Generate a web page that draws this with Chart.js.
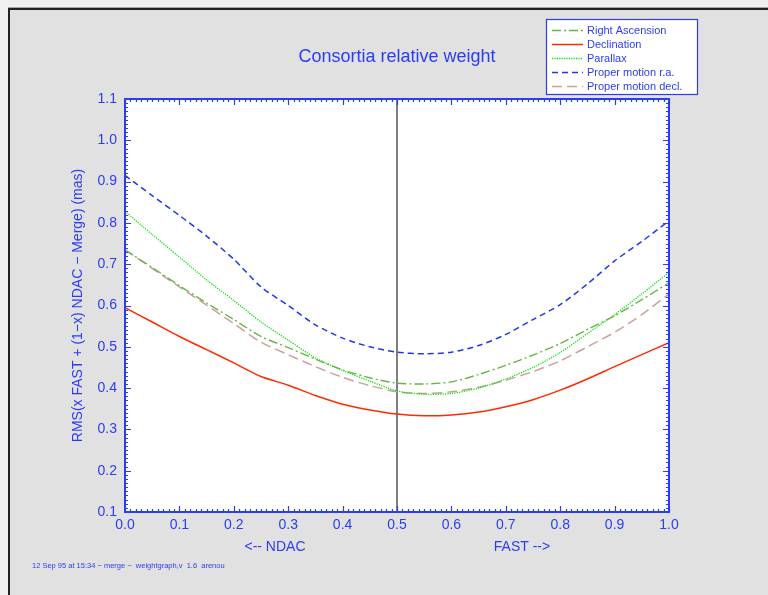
<!DOCTYPE html>
<html><head><meta charset="utf-8">
<script src="https://cdn.jsdelivr.net/npm/chart.js@4.4.1/dist/chart.umd.min.js"></script>
<style>html,body{margin:0;padding:0;background:#efefef;}#wrap{width:768px;height:595px;}</style>
</head><body><div id="wrap"><canvas id="c" width="768" height="595"></canvas></div>
<script>
const xValues = [0.00,0.05,0.10,0.15,0.20,0.25,0.30,0.35,0.40,0.45,0.50,0.55,0.60,0.65,0.70,0.75,0.80,0.85,0.90,0.95,1.00];
const rightAscension = [0.735,0.692,0.648,0.606,0.566,0.525,0.498,0.470,0.444,0.425,0.412,0.410,0.415,0.433,0.455,0.480,0.508,0.542,0.575,0.614,0.655];
const declination   = [0.595,0.560,0.525,0.493,0.461,0.428,0.407,0.382,0.361,0.347,0.337,0.333,0.335,0.342,0.355,0.372,0.395,0.422,0.452,0.481,0.510];
const parallax      = [0.828,0.772,0.717,0.662,0.612,0.560,0.516,0.473,0.443,0.417,0.393,0.385,0.387,0.400,0.422,0.450,0.486,0.532,0.578,0.628,0.680];
const pmRA          = [0.915,0.866,0.818,0.768,0.712,0.645,0.600,0.553,0.521,0.500,0.487,0.483,0.487,0.503,0.530,0.566,0.602,0.652,0.708,0.755,0.805];
const pmDec         = [0.735,0.690,0.645,0.601,0.556,0.511,0.481,0.452,0.426,0.406,0.391,0.387,0.391,0.402,0.419,0.440,0.466,0.500,0.535,0.578,0.628];
const dividerX = [0.5, 0.5];
const dividerY = [0.1, 1.1];
const seriesNames = ["Right Ascension","Declination","Parallax","Proper motion r.a.","Proper motion decl."];
const titleText = "Consortia relative weight";
const yTitle = "RMS(x FAST + (1\u2212x) NDAC \u2212 Merge) (mas)";
const xTitleLeft = "<-- NDAC";
const xTitleRight = "FAST -->";
const footText = "12 Sep 95 at 15:34 \u2212 merge \u2212  weightgraph,v  1.6  arenou";

const BLUE = "#2b3cf5";
const FONT = "'Liberation Sans', Arial, sans-serif";
const pts = arr => xValues.map((x,i)=>({x:x,y:arr[i]}));

const styles = [
  {color:"#66b544", dash:[9,3,2,3], width:1.4},
  {color:"#ff2a00", dash:[], width:1.5},
  {color:"#00e400", dash:[1.2,1.2], width:1.3},
  {color:"#2037f0", dash:[6,4], width:1.5},
  {color:"#caa19e", dash:[10,5], width:1.5}
];
const seriesData = [rightAscension, declination, parallax, pmRA, pmDec];

const datasets = seriesData.map((arr,i)=>({
  label: seriesNames[i], data: pts(arr), borderColor: styles[i].color,
  borderDash: styles[i].dash, borderWidth: styles[i].width, pointRadius: 0,
  tension: 0.25, fill:false
}));
datasets.push({label:"divider", data: dividerX.map((x,i)=>({x:x,y:dividerY[i]})),
  borderColor:"#000", borderWidth:1, pointRadius:0, fill:false});

const decor = {
  id:'decor',
  beforeDraw(chart){
    const ctx = chart.ctx;
    ctx.save();
    ctx.fillStyle = "#f0f0f0"; ctx.fillRect(0,0,768,595);
    ctx.fillStyle = "#e1e1e1"; ctx.fillRect(9,9,759,586);
    ctx.fillStyle = "#a8a8a8"; ctx.fillRect(8,7,760,1);
    ctx.fillStyle = "#222"; ctx.fillRect(8,8,760,2); ctx.fillRect(8,8,2,587);
    const a = chart.chartArea;
    ctx.fillStyle = "#fff"; ctx.fillRect(a.left,a.top,a.right-a.left,a.bottom-a.top);
    ctx.restore();
  },
  afterDraw(chart){
    const ctx = chart.ctx, a = chart.chartArea;
    const xs = chart.scales.x, ys = chart.scales.y;
    ctx.save();
    ctx.strokeStyle = BLUE; ctx.lineWidth = 1.2; ctx.setLineDash([]);
    // minor & major ticks
    for(let k=0;k<=100;k++){
      const px = Math.round(xs.getPixelForValue(k/100))+0.5;
      const L = (k%10===0)?6:3;
      ctx.beginPath(); ctx.moveTo(px,a.bottom); ctx.lineTo(px,a.bottom-L);
      ctx.moveTo(px,a.top); ctx.lineTo(px,a.top+L); ctx.stroke();
    }
    for(let k=10;k<=110;k++){
      const py = Math.round(ys.getPixelForValue(k/100))+0.5;
      const L = (k%10===0)?6:3;
      ctx.beginPath(); ctx.moveTo(a.left,py); ctx.lineTo(a.left+L,py);
      ctx.moveTo(a.right,py); ctx.lineTo(a.right-L,py); ctx.stroke();
    }
    ctx.lineWidth = 2;
    ctx.strokeRect(a.left,a.top,a.right-a.left,a.bottom-a.top);
    // title
    ctx.fillStyle = BLUE; ctx.textAlign='center'; ctx.textBaseline='middle';
    ctx.font = "18px "+FONT;
    ctx.fillText(titleText,(a.left+a.right)/2,57);
    // axis titles
    ctx.font = "14px "+FONT;
    ctx.fillText(xTitleLeft,275,547);
    ctx.fillText(xTitleRight,522,547);
    ctx.save(); ctx.translate(78,(a.top+a.bottom)/2); ctx.rotate(-Math.PI/2);
    ctx.fillText(yTitle,0,0); ctx.restore();
    // footnote
    ctx.textAlign='left'; ctx.font = "7.5px "+FONT;
    ctx.fillText(footText,32,566);
    // legend
    ctx.fillStyle="#fff"; ctx.fillRect(546,19,151,75);
    ctx.strokeStyle=BLUE; ctx.lineWidth=1.2; ctx.strokeRect(546.5,19.5,151,75);
    ctx.font = "11px "+FONT;
    for(let i=0;i<5;i++){
      const y = 30 + i*14;
      ctx.strokeStyle = styles[i].color; ctx.lineWidth = styles[i].width;
      ctx.setLineDash(styles[i].dash);
      ctx.beginPath(); ctx.moveTo(552,y+0.5); ctx.lineTo(583,y+0.5); ctx.stroke();
      ctx.setLineDash([]);
      ctx.fillStyle = BLUE; ctx.fillText(seriesNames[i],587,y+0.5);
    }
    ctx.restore();
  }
};

new Chart(document.getElementById('c'),{
  type:'line',
  data:{datasets:datasets},
  options:{
    responsive:false, animation:false, devicePixelRatio:1,
    layout:{padding:{left:0,right:99,top:99,bottom:0}},
    plugins:{legend:{display:false},title:{display:false},tooltip:{enabled:false}},
    scales:{
      x:{type:'linear',min:0,max:1,
        afterFit(s){s.height=83;},
        grid:{display:false,drawTicks:false}, border:{display:false},
        ticks:{stepSize:0.1,padding:5,color:BLUE,font:{family:FONT,size:14},
          callback:v=>Number(v).toFixed(1)}},
      y:{type:'linear',min:0.1,max:1.1,
        afterFit(s){s.width=125;},
        grid:{display:false,drawTicks:false}, border:{display:false},
        ticks:{stepSize:0.1,padding:8,color:BLUE,font:{family:FONT,size:14},
          callback:v=>Number(v).toFixed(1)}}
    }
  },
  plugins:[decor]
});
</script></body></html>
